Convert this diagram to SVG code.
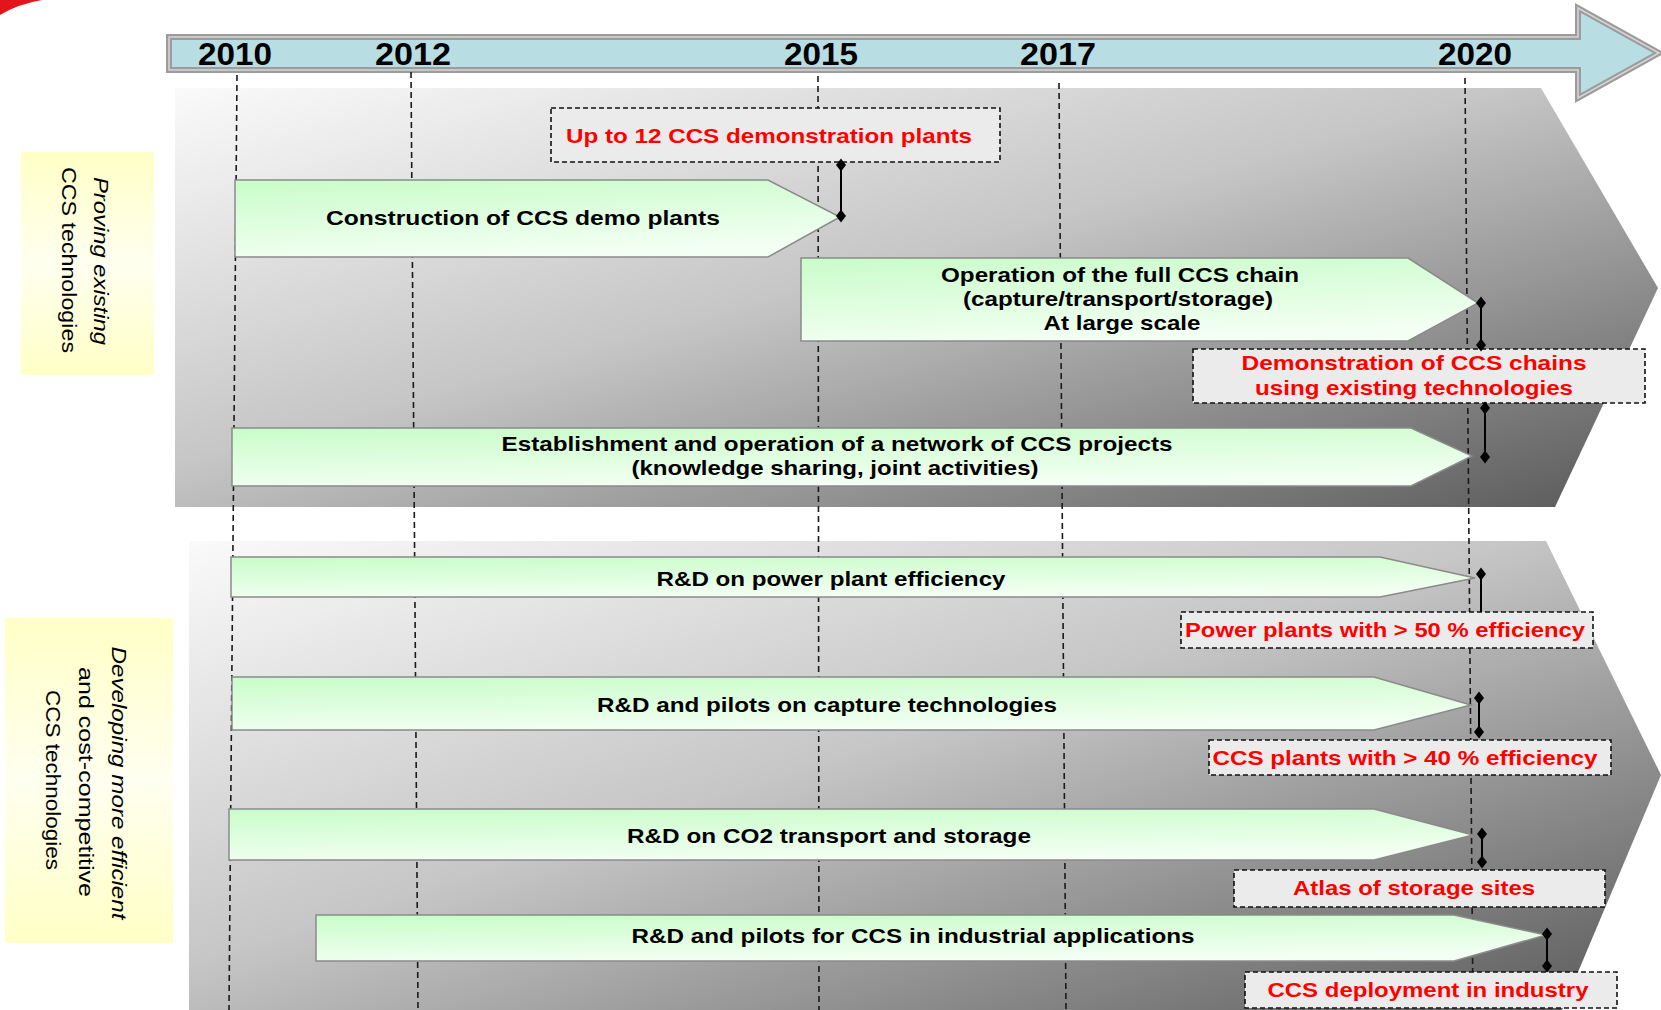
<svg xmlns="http://www.w3.org/2000/svg" width="1661" height="1010" viewBox="0 0 1661 1010">
<defs>
<linearGradient id="panelG" x1="0" y1="0" x2="1" y2="1">
<stop offset="0" stop-color="#fafafa"/>
<stop offset="0.45" stop-color="#c6c6c6"/>
<stop offset="1" stop-color="#585858"/>
</linearGradient>
<linearGradient id="greenG" x1="0" y1="0" x2="0.3" y2="1">
<stop offset="0" stop-color="#c9fcc9"/>
<stop offset="1" stop-color="#f2fff2"/>
</linearGradient>
<linearGradient id="yellowG" x1="0" y1="0" x2="0" y2="1">
<stop offset="0" stop-color="#ffffc6"/>
<stop offset="0.5" stop-color="#fffff0"/>
<stop offset="1" stop-color="#ffffc6"/>
</linearGradient>
<marker id="dia" viewBox="-6 -7 12 14" markerWidth="12" markerHeight="14" refX="0" refY="0" markerUnits="userSpaceOnUse" orient="0">
<path d="M0,-6.5 L5,0 L0,6.5 L-5,0 Z" fill="#000"/>
</marker>
</defs>
<style>
.panel{fill:url(#panelG);}
.year{font-family:"Liberation Sans",Arial,sans-serif;font-weight:bold;font-size:31px;fill:#000;text-anchor:middle;}
.vline{stroke:#1a1a1a;stroke-width:1.6;stroke-dasharray:6,4;fill:none;}
.chev{fill:url(#greenG);stroke:#8a8a8a;stroke-width:1.5;}
.ct{font-family:"Liberation Sans",Arial,sans-serif;font-weight:bold;font-size:21px;fill:#000;text-anchor:middle;}
.ms{fill:#ebebeb;stroke:#111;stroke-width:1.6;stroke-dasharray:5,3;}
.mt{font-family:"Liberation Sans",Arial,sans-serif;font-weight:bold;font-size:21px;fill:#ff0000;text-anchor:middle;}
.lbl{fill:url(#yellowG);}
.lt{font-family:"Liberation Sans",Arial,sans-serif;font-size:21px;fill:#000;text-anchor:middle;}
.conn{stroke:#000;stroke-width:2;fill:none;}
</style>

<path d="M0,0 L42,0 Q18,4 0,15 Z" fill="#e3141b"/>

<g id="timeline">
<polygon points="169,37 1578,37 1578,8 1659,53 1578,98 1578,70 169,70" fill="#b8dde2" stroke="#9c9c9c" stroke-width="6" stroke-linejoin="miter"/>
<polygon points="169,37 1578,37 1578,8 1659,53 1578,98 1578,70 169,70" fill="none" stroke="#d6d6d6" stroke-width="1.5"/>
<text class="year" x="235" y="65" textLength="74" lengthAdjust="spacingAndGlyphs">2010</text>
<text class="year" x="413" y="65" textLength="76" lengthAdjust="spacingAndGlyphs">2012</text>
<text class="year" x="821" y="65" textLength="74" lengthAdjust="spacingAndGlyphs">2015</text>
<text class="year" x="1058" y="65" textLength="76" lengthAdjust="spacingAndGlyphs">2017</text>
<text class="year" x="1475" y="65" textLength="74" lengthAdjust="spacingAndGlyphs">2020</text>
</g>

<g id="panel-proving">
<polygon class="panel" points="175,88 1541,88 1658,288 1555,507 175,507"/>
</g>
<g id="panel-developing">
<polygon class="panel" points="189,541 1546,541 1661,775 1562,1010 189,1010"/>
</g>

<g id="year-lines">
<line class="vline" x1="237" y1="75" x2="229" y2="1010"/>
<line class="vline" x1="411" y1="72" x2="418" y2="1010"/>
<line class="vline" x1="818" y1="76" x2="819" y2="1010"/>
<line class="vline" x1="1059" y1="83" x2="1066" y2="1010"/>
<line class="vline" x1="1465" y1="78" x2="1473" y2="1010"/>
</g>

<g id="label-proving">
<rect class="lbl" x="21" y="152" width="133" height="223"/>
<text class="lt" font-style="italic" transform="translate(94,261) rotate(90)" textLength="168" lengthAdjust="spacingAndGlyphs">Proving existing</text>
<text class="lt" transform="translate(62,260) rotate(90)" textLength="186" lengthAdjust="spacingAndGlyphs">CCS technologies</text>
</g>

<g id="label-developing">
<rect class="lbl" x="5" y="618" width="168" height="325"/>
<text class="lt" font-style="italic" transform="translate(112,783) rotate(90)" textLength="273" lengthAdjust="spacingAndGlyphs">Developing more efficient</text>
<text class="lt" transform="translate(79,782) rotate(90)" textLength="230" lengthAdjust="spacingAndGlyphs">and  cost-competitive</text>
<text class="lt" transform="translate(46,780) rotate(90)" textLength="180" lengthAdjust="spacingAndGlyphs">CCS technologies</text>
</g>

<g id="construction">
<polygon class="chev" points="235,180 768,180 840,217 768,257 235,257"/>
<text class="ct" x="523" y="225" font-size="22" textLength="394" lengthAdjust="spacingAndGlyphs">Construction  of CCS demo plants</text>
</g>

<g id="operation">
<polygon class="chev" points="801,258 1408,258 1478,303 1408,341 801,341"/>
<text class="ct" x="1120" y="282" textLength="358" lengthAdjust="spacingAndGlyphs">Operation of the full CCS chain</text>
<text class="ct" x="1118" y="306" textLength="310" lengthAdjust="spacingAndGlyphs">(capture/transport/storage)</text>
<text class="ct" x="1122" y="330" textLength="157" lengthAdjust="spacingAndGlyphs">At large scale</text>
</g>

<g id="network">
<polygon class="chev" points="232,428 1411,428 1472,456 1411,486 232,486"/>
<text class="ct" x="837" y="451" textLength="671" lengthAdjust="spacingAndGlyphs">Establishment and operation of a network of CCS projects</text>
<text class="ct" x="835" y="475" textLength="407" lengthAdjust="spacingAndGlyphs">(knowledge sharing, joint activities)</text>
</g>

<g id="power-rd">
<polygon class="chev" points="231,557 1380,557 1475,578 1380,597 231,597"/>
<text class="ct" x="831" y="586" font-size="22" textLength="349" lengthAdjust="spacingAndGlyphs">R&amp;D on power plant efficiency</text>
</g>

<g id="capture-rd">
<polygon class="chev" points="232,677 1374,677 1471,705 1374,730 232,730"/>
<text class="ct" x="827" y="712" font-size="22" textLength="460" lengthAdjust="spacingAndGlyphs">R&amp;D and pilots on capture technologies</text>
</g>

<g id="co2-rd">
<polygon class="chev" points="229,809 1374,809 1473,835 1374,860 229,860"/>
<text class="ct" x="829" y="843" font-size="22" textLength="404" lengthAdjust="spacingAndGlyphs">R&amp;D on CO2 transport and storage</text>
</g>

<g id="industry-rd">
<polygon class="chev" points="316,915 1454,915 1546,935 1454,961 316,961"/>
<text class="ct" x="913" y="943" font-size="22" textLength="563" lengthAdjust="spacingAndGlyphs">R&amp;D and pilots for CCS in industrial applications</text>
</g>

<g id="ms-demo-plants">
<rect class="ms" x="551" y="108" width="449" height="54" fill="#efefef"/>
<text class="mt" x="769" y="143" font-size="22" textLength="406" lengthAdjust="spacingAndGlyphs">Up to 12 CCS demonstration plants</text>
</g>

<g id="ms-chains">
<rect class="ms" x="1193" y="349" width="452" height="54"/>
<text class="mt" x="1414" y="370" textLength="345" lengthAdjust="spacingAndGlyphs">Demonstration of CCS chains</text>
<text class="mt" x="1414" y="395" textLength="318" lengthAdjust="spacingAndGlyphs">using existing technologies</text>
</g>

<g id="ms-power">
<rect class="ms" x="1181" y="612" width="412" height="36"/>
<text class="mt" x="1385" y="637" font-size="22" textLength="400" lengthAdjust="spacingAndGlyphs">Power plants with &gt; 50 % efficiency</text>
</g>

<g id="ms-capture">
<rect class="ms" x="1209" y="740" width="402" height="35"/>
<text class="mt" x="1405" y="765" font-size="22" textLength="385" lengthAdjust="spacingAndGlyphs">CCS plants with  &gt; 40 % efficiency</text>
</g>

<g id="ms-atlas">
<rect class="ms" x="1234" y="870" width="371" height="37"/>
<text class="mt" x="1414" y="895" font-size="22" textLength="242" lengthAdjust="spacingAndGlyphs">Atlas of storage sites</text>
</g>

<g id="ms-industry">
<rect class="ms" x="1245" y="972" width="372" height="36"/>
<text class="mt" x="1428" y="997" font-size="22" textLength="321" lengthAdjust="spacingAndGlyphs">CCS deployment in industry</text>
</g>

<g id="connectors">
<line class="conn" x1="841" y1="165" x2="841" y2="216" marker-start="url(#dia)" marker-end="url(#dia)"/>
<line class="conn" x1="1481" y1="303" x2="1481" y2="345" marker-start="url(#dia)" marker-end="url(#dia)"/>
<line class="conn" x1="1485" y1="408" x2="1485" y2="457" marker-start="url(#dia)" marker-end="url(#dia)"/>
<line class="conn" x1="1481" y1="574" x2="1481" y2="612" marker-start="url(#dia)"/>
<line class="conn" x1="1479" y1="698" x2="1479" y2="732" marker-start="url(#dia)" marker-end="url(#dia)"/>
<line class="conn" x1="1482" y1="834" x2="1482" y2="862" marker-start="url(#dia)" marker-end="url(#dia)"/>
<line class="conn" x1="1547" y1="934" x2="1547" y2="966" marker-start="url(#dia)" marker-end="url(#dia)"/>
</g>
</svg>
